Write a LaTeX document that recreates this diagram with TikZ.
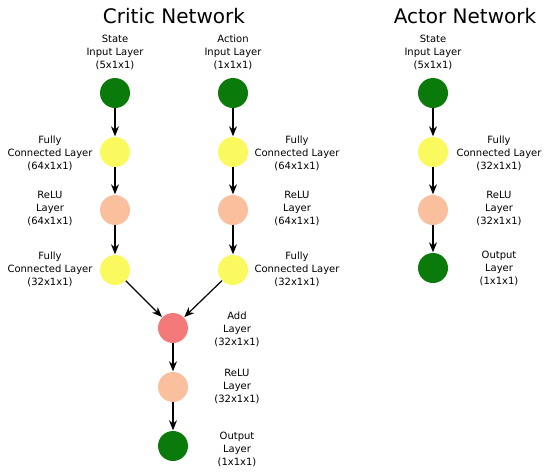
\documentclass[tikz,border=0pt]{standalone}
\usepackage{fontspec}
\setmainfont{DejaVu Sans}
\usetikzlibrary{arrows.meta}
\definecolor{dgreen}{RGB}{10,122,10}
\definecolor{lyellow}{RGB}{250,250,95}
\definecolor{peach}{RGB}{250,192,158}
\definecolor{salmon}{RGB}{244,122,122}
\begin{document}
\begin{tikzpicture}[x=1pt,y=-1pt,
  layer/.style={circle,minimum size=30pt,inner sep=0pt},
  inp/.style={layer,fill=dgreen},
  fc/.style={layer,fill=lyellow},
  relu/.style={layer,fill=peach},
  addl/.style={layer,fill=salmon},
  lbl/.style={align=center,font=\fontsize{10}{13}\selectfont,inner sep=0pt},
  ttl/.style={font=\fontsize{20}{24}\selectfont,inner sep=0pt},
  conn/.style={-{Stealth[length=10pt,width=8pt]},line width=1.2pt,shorten >=0.5pt}]
\useasboundingbox (0,0) rectangle (550,472);
% titles
\node[ttl] (tc) at (174,16) {Critic Network};
\node[ttl] (ta) at (465,16) {Actor Network};
% critic state column
\node[inp]  (s1) at (115,93) {};
\node[fc]   (s2) at (115,152) {};
\node[relu] (s3) at (115,210) {};
\node[fc]   (s4) at (115,270) {};
% critic action column
\node[inp]  (a1) at (233,93) {};
\node[fc]   (a2) at (233,152) {};
\node[relu] (a3) at (233,210) {};
\node[fc]   (a4) at (233,270) {};
% merge
\node[addl] (m1) at (173,328) {};
\node[relu] (m2) at (173,387) {};
\node[inp]  (m3) at (173,446) {};
% actor
\node[inp]  (c1) at (433,93) {};
\node[fc]   (c2) at (433,152) {};
\node[relu] (c3) at (433,210) {};
\node[inp]  (c4) at (433,268) {};
% labels
\node[lbl] (ls1) at (115,52) {State\\Input Layer\\(5x1x1)};
\node[lbl] (ls2) at (50,153) {Fully\\Connected Layer\\(64x1x1)};
\node[lbl] (ls3) at (50,209) {ReLU\\Layer\\(64x1x1)};
\node[lbl] (ls4) at (50,269) {Fully\\Connected Layer\\(32x1x1)};
\node[lbl] (la1) at (233,52) {Action\\Input Layer\\(1x1x1)};
\node[lbl] (la2) at (297,153) {Fully\\Connected Layer\\(64x1x1)};
\node[lbl] (la3) at (297,209) {ReLU\\Layer\\(64x1x1)};
\node[lbl] (la4) at (297,269) {Fully\\Connected Layer\\(32x1x1)};
\node[lbl] (lm1) at (237,329) {Add\\Layer\\(32x1x1)};
\node[lbl] (lm2) at (237,387) {ReLU\\Layer\\(32x1x1)};
\node[lbl] (lm3) at (237,449) {Output\\Layer\\(1x1x1)};
\node[lbl] (lc1) at (433,52) {State\\Input Layer\\(5x1x1)};
\node[lbl] (lc2) at (499,153) {Fully\\Connected Layer\\(32x1x1)};
\node[lbl] (lc3) at (499,209) {ReLU\\Layer\\(32x1x1)};
\node[lbl] (lc4) at (499,268) {Output\\Layer\\(1x1x1)};
% connectors
\draw[conn] (s1) -- (s2);
\draw[conn] (s2) -- (s3);
\draw[conn] (s3) -- (s4);
\draw[conn] (a1) -- (a2);
\draw[conn] (a2) -- (a3);
\draw[conn] (a3) -- (a4);
\draw[conn] (s4) -- (m1);
\draw[conn] (a4) -- (m1);
\draw[conn] (m1) -- (m2);
\draw[conn] (m2) -- (m3);
\draw[conn] (c1) -- (c2);
\draw[conn] (c2) -- (c3);
\draw[conn] (c3) -- (c4);
\end{tikzpicture}
\end{document}
